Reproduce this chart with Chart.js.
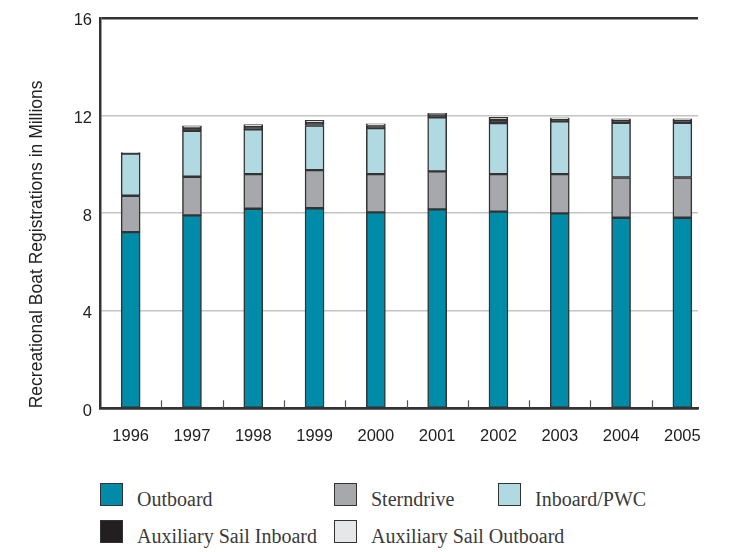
<!DOCTYPE html>
<html>
<head>
<meta charset="utf-8">
<script src="https://cdn.jsdelivr.net/npm/chart.js@4.4.1/dist/chart.umd.min.js"></script>
<style>
  body { margin: 0; background: #fff; }
  #wrap { position: relative; width: 732px; height: 552px; }
  #box { position: absolute; left: 0; top: 0; width: 732px; height: 462px; }
  .leg { position: absolute; font-family: "Liberation Serif", "DejaVu Serif", serif; font-size: 20px; color: #3a3a3a; white-space: nowrap; }
  .leg span { position: absolute; left: 0; top: 0; width: 21px; height: 21px; border: 1px solid #333; }
  .leg b { font-weight: normal; position: absolute; left: 37px; top: 4px; line-height: 24px; }
</style>
</head>
<body>
<div id="wrap">
  <div id="box"><canvas id="myChart"></canvas></div>
  <div id="legend"></div>
</div>
<script>
// Access chart tag
let myChart = document.getElementById("myChart").getContext('2d');

// Values (millions of registrations)
let years = ['1996', '1997', '1998', '1999', '2000', '2001', '2002', '2003', '2004', '2005'];
let outboard = [7.22, 7.91, 8.18, 8.20, 8.03, 8.15, 8.06, 7.99, 7.81, 7.81];
let sterndrive = [1.49, 1.58, 1.42, 1.56, 1.57, 1.56, 1.54, 1.61, 1.65, 1.65];
let inboardPwc = [1.73, 1.88, 1.83, 1.83, 1.88, 2.22, 2.09, 2.16, 2.24, 2.24];
let auxSailInboard = [0.02, 0.12, 0.11, 0.11, 0.11, 0.10, 0.12, 0.08, 0.09, 0.09];
let auxSailOutboard = [0.02, 0.09, 0.09, 0.10, 0.07, 0.06, 0.11, 0.06, 0.07, 0.07];
let yTicks = [0, 4, 8, 12, 16];

let colors = {
    outboard: '#008ca9',
    sterndrive: '#a6a8ab',
    inboard: '#b1d9e2',
    auxIn: '#231f20',
    auxOut: '#e6e7e8'
};

// turn a series into points on the numeric x scale
function pts(arr) {
    return arr.map((v, i) => ({ x: i, y: v }));
}

function ds(label, arr, color) {
    return {
        label: label,
        data: pts(arr),
        backgroundColor: color,
        borderColor: '#333',
        borderWidth: 1.5,
        borderSkipped: false,
        barThickness: 19
    };
}

let data = {
    datasets: [
        ds('Outboard', outboard, colors.outboard),
        ds('Sterndrive', sterndrive, colors.sterndrive),
        ds('Inboard/PWC', inboardPwc, colors.inboard),
        ds('Auxiliary Sail Inboard', auxSailInboard, colors.auxIn),
        ds('Auxiliary Sail Outboard', auxSailOutboard, colors.auxOut)
    ]
};

const sans = '"Liberation Sans", Arial, sans-serif';

// small upward tick marks between the years, on the x axis line
const innerTicks = {
    id: 'innerTicks',
    afterDatasetsDraw(chart) {
        const x = chart.scales.x;
        const bottom = chart.chartArea.bottom;
        const ctx = chart.ctx;
        ctx.save();
        ctx.strokeStyle = '#555';
        ctx.lineWidth = 1.2;
        for (let i = 1; i < years.length; i++) {
            const px = Math.round(x.getPixelForValue(i - 0.5)) + 0.5;
            ctx.beginPath();
            ctx.moveTo(px, bottom);
            ctx.lineTo(px, bottom - 8);
            ctx.stroke();
        }
        ctx.restore();
    }
};

const config = {
    type: 'bar',
    data: data,
    plugins: [innerTicks],
    options: {
        responsive: true,
        maintainAspectRatio: false,
        animation: false,
        layout: { padding: { left: 0, right: 34, top: 15, bottom: 0 } },
        plugins: {
            legend: { display: false },
            tooltip: { enabled: false }
        },
        scales: {
            x: {
                type: 'linear',
                stacked: true,
                offset: false,
                min: -0.5,
                max: 9.255,
                afterBuildTicks: (axis) => {
                    axis.ticks = years.map((y, i) => ({ value: i }));
                },
                afterFit: (axis) => { axis.height = 53.7; },
                ticks: {
                    color: '#222',
                    font: { family: sans, size: 16.5 },
                    padding: 18,
                    maxRotation: 0,
                    autoSkip: false,
                    callback: (v) => years[v]
                },
                grid: { display: false, drawTicks: false },
                border: { color: '#333', width: 2.5 }
            },
            y: {
                stacked: true,
                min: 0,
                max: 16,
                afterBuildTicks: (axis) => {
                    axis.ticks = yTicks.map(v => ({ value: v }));
                },
                afterFit: (axis) => { axis.width = 100; },
                ticks: {
                    color: '#222',
                    font: { family: sans, size: 16.5 },
                    padding: 8,
                    labelOffset: 3
                },
                grid: {
                    drawTicks: false,
                    color: (c) => (c.tick && (c.tick.value === 16 || c.tick.value === 0)) ? '#333' : '#c4c4c4',
                    lineWidth: (c) => (c.tick && c.tick.value === 16) ? 2.5 : 1.5
                },
                border: { color: '#333', width: 2.5 },
                title: {
                    display: true,
                    text: 'Recreational Boat Registrations in Millions',
                    align: 'start',
                    color: '#222',
                    font: { family: sans, size: 17.5 },
                    padding: { top: 27, bottom: 0 }
                }
            }
        }
    }
};

const theChart = new Chart(myChart, config);

// Legend laid out like the original, two rows
let legendPos = [
    [100, 483], [334, 483], [498, 483],
    [100, 520], [334, 520]
];
let legendColors = [colors.outboard, colors.sterndrive, colors.inboard, colors.auxIn, colors.auxOut];
let legendDiv = document.getElementById('legend');
data.datasets.forEach((d, i) => {
    let el = document.createElement('div');
    el.className = 'leg';
    el.style.left = legendPos[i][0] + 'px';
    el.style.top = legendPos[i][1] + 'px';
    el.innerHTML = '<span style="background:' + legendColors[i] + '"></span><b>' + d.label + '</b>';
    legendDiv.appendChild(el);
});
</script>
</body>
</html>
